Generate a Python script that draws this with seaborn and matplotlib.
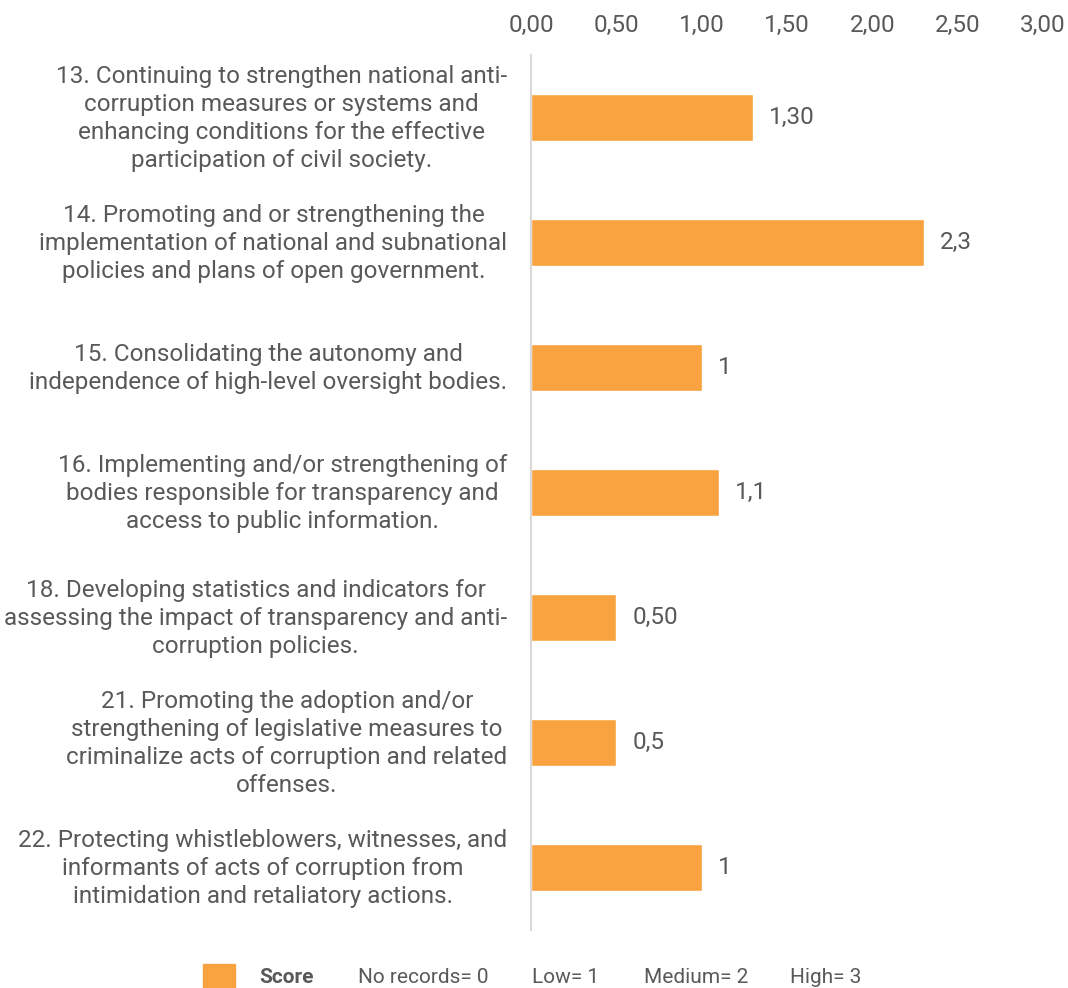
import matplotlib
matplotlib.use("Agg")
import matplotlib.pyplot as plt
from matplotlib.patches import Rectangle
from matplotlib.transforms import ScaledTranslation
import seaborn as sns
import pandas as pd

categories = [
    "13. Continuing to strengthen national anti-\ncorruption measures or systems and\nenhancing conditions for the effective\nparticipation of civil society.",
    "14. Promoting and or strengthening the\nimplementation of national and subnational\npolicies and plans of open government.",
    "15. Consolidating the autonomy and\nindependence of high-level oversight bodies.",
    "16. Implementing and/or strengthening of\nbodies responsible for transparency and\naccess to public information.",
    "18. Developing statistics and indicators for\nassessing the impact of transparency and anti-\ncorruption policies.",
    "21. Promoting the adoption and/or\nstrengthening of legislative measures to\ncriminalize acts of corruption and related\noffenses.",
    "22. Protecting whistleblowers, witnesses, and\ninformants of acts of corruption from\nintimidation and retaliatory actions.",
]
scores = [1.30, 2.3, 1.0, 1.1, 0.50, 0.5, 1.0]
value_labels = ["1,30", "2,3", "1", "1,1", "0,50", "0,5", "1"]
x_ticks = [0.0, 0.5, 1.0, 1.5, 2.0, 2.5, 3.0]
x_tick_labels = ["0,00", "0,50", "1,00", "1,50", "2,00", "2,50", "3,00"]
series_name = "Score"
scale_notes = ["No records= 0", "Low= 1", "Medium= 2", "High= 3"]

BAR = "#F8A33F"
TEXT = "#595959"
FS = 17.5

sns.set_style("white")
plt.rcParams["font.family"] = ["Roboto", "DejaVu Sans"]

df = pd.DataFrame({"item": categories, "score": scores})

W, H = 1068, 988
fig = plt.figure(figsize=(W / 100, H / 100), dpi=100)
ax = fig.add_axes([531 / W, 1 - 930 / H, (1043 - 531) / W, (930 - 55) / H])

sns.barplot(data=df, y="item", x="score", order=categories, color=BAR,
            width=0.37, saturation=1, ax=ax, orient="h")

ax.set_xlim(0, 3.0)
ax.xaxis.tick_top()
ax.set_xticks(x_ticks)
ax.set_xticklabels(x_tick_labels, fontsize=FS, color=TEXT)
ax.tick_params(axis="x", length=0, pad=13)
ax.tick_params(axis="y", length=0, pad=17, labelsize=FS, labelcolor=TEXT)
lift = ScaledTranslation(0, 4 / 100, fig.dpi_scale_trans)
for lbl in ax.get_yticklabels():
    lbl.set_multialignment("center")
    lbl.set_linespacing(1.28)
    lbl.set_transform(lbl.get_transform() + lift)
ax.set_xlabel("")
ax.set_ylabel("")

for s in ["top", "right", "bottom"]:
    ax.spines[s].set_visible(False)
ax.spines["left"].set_color("#d9d9d9")
ax.spines["left"].set_linewidth(1.5)

for patch, txt in zip(ax.patches, value_labels):
    w = patch.get_width()
    yc = patch.get_y() + patch.get_height() / 2
    ax.annotate(txt, (w, yc), xytext=(16, 0), textcoords="offset pixels",
                va="center", ha="left", fontsize=FS, color=TEXT)

# legend row
fig.patches.append(Rectangle((203 / W, 1 - 988 / H), 32 / W, 24 / H,
                             transform=fig.transFigure, color=BAR))
ly = 1 - 977 / H
fig.text(259 / W, ly, series_name, fontsize=15, color=TEXT, fontweight="bold", va="center")
xs = [358, 532, 644, 790]
for x, t in zip(xs, scale_notes):
    fig.text(x / W, ly, t, fontsize=15, color=TEXT, va="center")

fig.savefig("out.png", dpi=100, facecolor="white")
